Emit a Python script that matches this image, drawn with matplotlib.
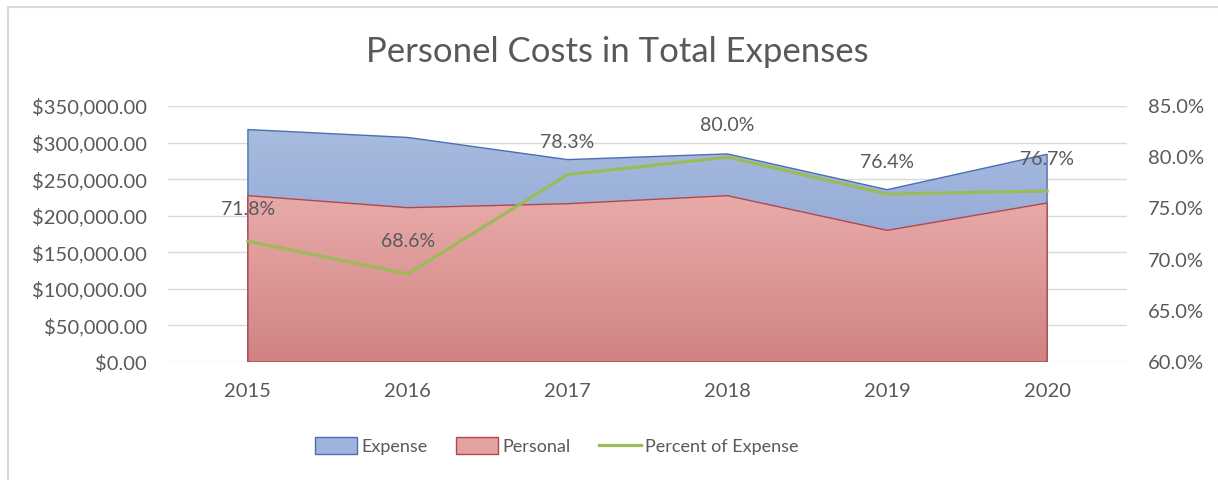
import numpy as np
import matplotlib
matplotlib.use('Agg')
import matplotlib.pyplot as plt
from matplotlib.patches import Patch
from matplotlib.lines import Line2D
from matplotlib.colors import LinearSegmentedColormap
from matplotlib.ticker import FuncFormatter, MultipleLocator

# values
years = ['2015', '2016', '2017', '2018', '2019', '2020']
expense = [317800, 307000, 276700, 284500, 235600, 284000]
personal = [227400, 211000, 216400, 227400, 180000, 217400]
percent = [71.8, 68.6, 78.3, 80.0, 76.4, 76.7]

plt.rcParams['font.family'] = ['Lato', 'DejaVu Sans']
grey = '#595959'

fig = plt.figure(figsize=(12.18, 4.8), dpi=100)
ax = fig.add_axes([168 / 1218, 1 - 362 / 480, (1127 - 168) / 1218, (362 - 106) / 480])
x = np.arange(len(years))


def grad_area(ax, x, y, top_col, bot_col, edge, z):
    # area with a vertical gradient, like the excel fill
    poly = ax.fill_between(x, 0, y, facecolor='none', edgecolor=edge,
                           linewidth=1.0, zorder=z + 0.5)
    cmap = LinearSegmentedColormap.from_list('g', [bot_col, top_col])
    grad = np.linspace(0, 1, 256).reshape(-1, 1)
    im = ax.imshow(grad, cmap=cmap, aspect='auto', origin='lower',
                   extent=[x[0], x[-1], 0, max(y)], zorder=z)
    im.set_clip_path(poly.get_paths()[0], ax.transData)


grad_area(ax, x, expense, '#a8bbdf', '#7f9bd0', '#4a6fb5', 2)
grad_area(ax, x, personal, '#e8abaa', '#d08383', '#b5474a', 3)

ax.set_xlim(-0.5, len(years) - 0.5)
ax.set_ylim(0, 350000)
ax.yaxis.set_major_locator(MultipleLocator(50000))
ax.yaxis.set_major_formatter(FuncFormatter(lambda v, p: '${:,.2f}'.format(v)))
ax.set_xticks(x)
ax.set_xticklabels(years)
ax.grid(axis='y', color='#d9d9d9', linewidth=1.0)
ax.set_axisbelow(True)
for s in ax.spines.values():
    s.set_visible(False)
ax.tick_params(axis='y', length=0, labelsize=14.5, labelcolor=grey, pad=15)
ax.tick_params(axis='x', length=0, labelsize=14.5, labelcolor=grey, pad=15)

ax2 = ax.twinx()
ax2.plot(x, percent, color='#9bbb59', linewidth=2.3, zorder=5)
ax2.set_ylim(60, 85)
ax2.yaxis.set_major_locator(MultipleLocator(5))
ax2.yaxis.set_major_formatter(FuncFormatter(lambda v, p: '{:.1f}%'.format(v)))
for s in ax2.spines.values():
    s.set_visible(False)
ax2.tick_params(axis='y', length=0, labelsize=14.5, labelcolor=grey, pad=15)
for xi, p in zip(x, percent):
    ax2.annotate('{:.1f}%'.format(p), (xi, p), xytext=(0, 23),
                 textcoords='offset points', ha='center', va='center',
                 fontsize=14, color=grey)

fig.text(0.507, 1 - 52 / 480, 'Personel Costs in Total Expenses',
         ha='center', va='center', fontsize=25, color=grey)

handles = [Patch(facecolor='#9fb4dd', edgecolor='#4a6fb5', label='Expense'),
           Patch(facecolor='#e2a2a1', edgecolor='#b5474a', label='Personal'),
           Line2D([0], [0], color='#9bbb59', linewidth=2.3, label='Percent of Expense')]
leg = fig.legend(handles=handles, loc='center', bbox_to_anchor=(557 / 1218, 1 - 446 / 480),
                 ncol=3, frameon=False, fontsize=13, handlelength=2.3,
                 handleheight=1.0, columnspacing=1.6, handletextpad=0.25)
for t in leg.get_texts():
    t.set_color(grey)

# chart border
fig.add_artist(Line2D([8 / 1218, 8 / 1218], [0, 1 - 7 / 480], color='#d9d9d9',
                      linewidth=1.5, transform=fig.transFigure))
fig.add_artist(Line2D([8 / 1218, 1], [1 - 7 / 480, 1 - 7 / 480], color='#d9d9d9',
                      linewidth=1.5, transform=fig.transFigure))

fig.savefig('out.png', dpi=100)
